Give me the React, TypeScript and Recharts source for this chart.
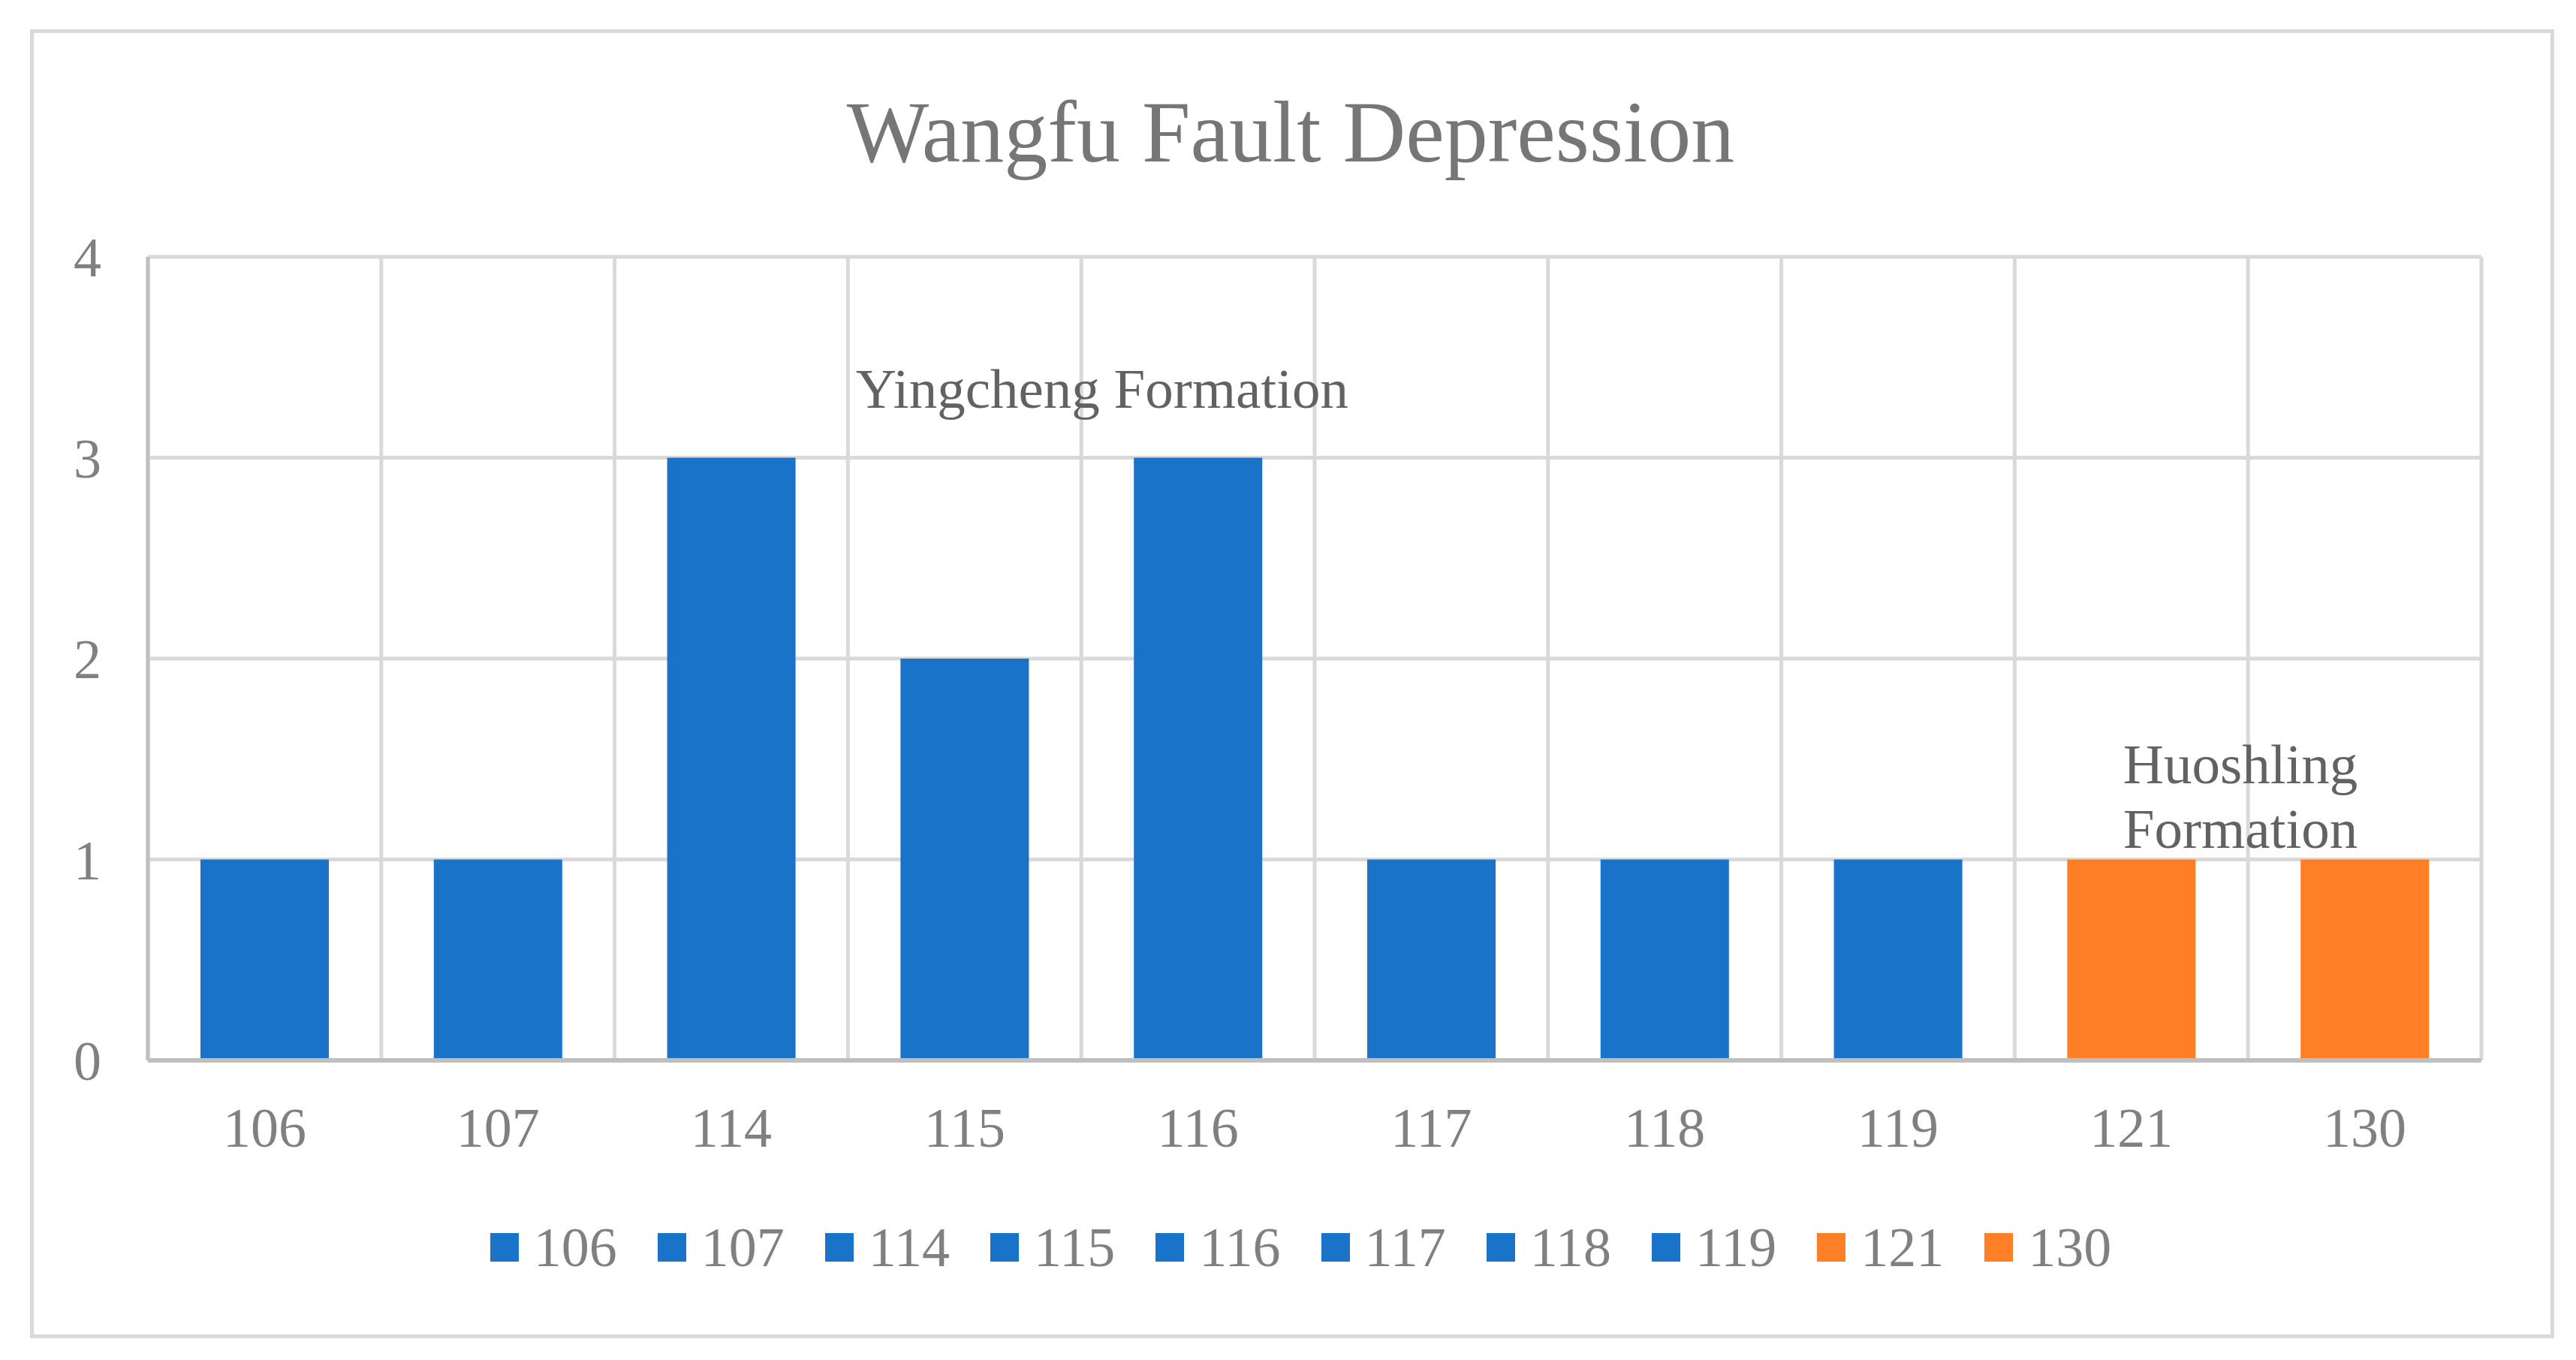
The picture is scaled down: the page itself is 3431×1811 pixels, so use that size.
import { Bar, BarChart, CartesianGrid, Cell, Legend, ReferenceDot, XAxis, YAxis } from "recharts";

const W = 3431;
const H = 1811;
const FONT = '"Liberation Serif", "Times New Roman", serif';

const categories = ["106", "107", "114", "115", "116", "117", "118", "119", "121", "130"];
const counts = [1, 1, 3, 2, 3, 1, 1, 1, 1, 1];
const formations = [
  "Yingcheng", "Yingcheng", "Yingcheng", "Yingcheng", "Yingcheng",
  "Yingcheng", "Yingcheng", "Yingcheng", "Huoshling", "Huoshling",
];
const formationColors: Record<string, string> = { Yingcheng: "#1873C9", Huoshling: "#FF7F27" };
const yTicks = [0, 1, 2, 3, 4];

const data = categories.map((name, i) => ({ name, value: counts[i], formation: formations[i] }));

const TICK = { fill: "#808080", fontSize: 74, fontFamily: FONT };
const NOTE = "#626262";

function LegendRow() {
  return (
    <div
      style={{
        display: "flex",
        justifyContent: "center",
        alignItems: "center",
        gap: 54,
        paddingLeft: 34,
        fontFamily: FONT,
        fontSize: 74,
        lineHeight: "74px",
        color: "#808080",
      }}
    >
      {data.map((d) => (
        <div key={d.name} style={{ display: "flex", alignItems: "center" }}>
          <span
            style={{
              display: "inline-block",
              width: 38,
              height: 38,
              marginRight: 20,
              background: formationColors[d.formation],
            }}
          />
          <span>{d.name}</span>
        </div>
      ))}
    </div>
  );
}

function noteLabel(lines: string[], dx: number) {
  return (props: any) => {
    const vb = props.viewBox || {};
    const cx = (vb.x ?? 0) + (vb.width ?? 0) / 2;
    const cy = (vb.y ?? 0) + (vb.height ?? 0) / 2;
    return (
      <text x={cx + dx} y={cy} fill={NOTE} fontSize={75} fontFamily={FONT} textAnchor="start">
        {lines.map((l, i) => (
          <tspan key={i} x={cx + dx} dy={i === 0 ? 0 : 86}>
            {l}
          </tspan>
        ))}
      </text>
    );
  };
}

export default function App() {
  return (
    <div style={{ position: "absolute", left: 0, top: 0, width: W, height: H, background: "#fff" }}>
      <div
        style={{
          position: "absolute",
          left: 40,
          top: 39,
          width: 3352,
          height: 1733,
          border: "5px solid #d9d9d9",
        }}
      />
      <div
        style={{
          position: "absolute",
          left: 42,
          top: 118,
          width: 3354,
          textAlign: "center",
          fontFamily: FONT,
          fontSize: 116,
          lineHeight: "116px",
          color: "#767676",
        }}
      >
        Wangfu Fault Depression
      </div>
      <div style={{ position: "absolute", left: 0, top: 0 }}>
        <BarChart
          width={W}
          height={H}
          data={data}
          margin={{ top: 342, right: 126, bottom: 249, left: 77 }}
        >
          <CartesianGrid
            stroke="#d9d9d9"
            strokeWidth={5}
            verticalCoordinatesGenerator={({ offset }: any) =>
              Array.from({ length: categories.length + 1 }, (_, i) => offset.left + (i * offset.width) / categories.length)
            }
          />
          <XAxis
            dataKey="name"
            height={150}
            tick={TICK}
            tickLine={false}
            tickSize={0}
            tickMargin={62}
            axisLine={{ stroke: "#bfbfbf", strokeWidth: 6 }}
          />
          <YAxis
            width={120}
            domain={[0, 4]}
            ticks={yTicks}
            tick={TICK}
            tickLine={false}
            tickSize={0}
            tickMargin={62}
            axisLine={{ stroke: "#bfbfbf", strokeWidth: 5 }}
          />
          <Legend
            layout="horizontal"
            verticalAlign="middle"
            align="center"
            wrapperStyle={{ top: 1624, left: 0, width: W }}
            content={() => <LegendRow />}
          />
          <Bar dataKey="value" barSize={171} isAnimationActive={false}>
            {data.map((d) => (
              <Cell key={d.name} fill={formationColors[d.formation]} />
            ))}
          </Bar>
          <ReferenceDot
            x="115"
            y={3.25}
            r={1}
            fill="none"
            stroke="none"
            label={{ content: noteLabel(["Yingcheng Formation"], -145) }}
          />
          <ReferenceDot
            x="121"
            y={1.38}
            r={1}
            fill="none"
            stroke="none"
            label={{ content: noteLabel(["Huoshling", "Formation"], -11) }}
          />
        </BarChart>
      </div>
    </div>
  );
}
